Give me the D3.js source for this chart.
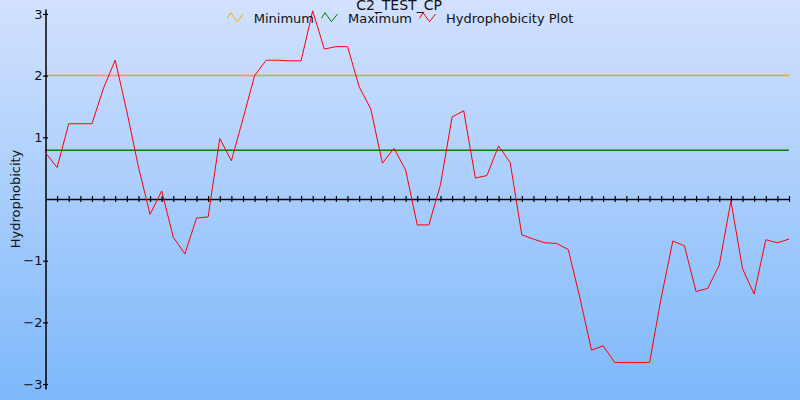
<!DOCTYPE html>
<html>
<head>
<meta charset="utf-8">
<script src="https://cdn.jsdelivr.net/npm/d3@7"></script>
<style>
  html, body { margin: 0; padding: 0; }
  svg { display: block; font-family: "DejaVu Sans", Verdana, sans-serif; }
</style>
</head>
<body>
<svg id="chart" width="800" height="400"></svg>
<script>
// ---- data ----
const chartTitle = "C2_TEST_CP";
const yLabel = "Hydrophobicity";
const seriesNames = ["Minimum", "Maximum", "Hydrophobicity Plot"];
const hydrophobicity = [
  0.75, 0.51, 1.22, 1.22, 1.22, 1.80, 2.25, 1.42, 0.52, -0.25,
  0.13, -0.62, -0.89, -0.31, -0.29, 0.98, 0.62, 1.30, 2.00, 2.25,
  2.25, 2.24, 2.24, 3.05, 2.43, 2.47, 2.47, 1.82, 1.46, 0.58,
  0.82, 0.47, -0.42, -0.42, 0.23, 1.33, 1.43, 0.34, 0.38, 0.86,
  0.59, -0.58, -0.65, -0.71, -0.72, -0.82, -1.60, -2.45, -2.38, -2.65,
  -2.65, -2.65, -2.65, -1.60, -0.68, -0.76, -1.50, -1.45, -1.07, -0.03,
  -1.13, -1.54, -0.66, -0.71, -0.65
];
const minimumValue = 2.0;
const maximumValue = 0.79;
const yTickValues = [-3, -2, -1, 1, 2, 3];
const yDomain = [-3.08, 3.08];

// ---- layout ----
const W = 800, H = 400;
const mLeft = 45.5, mRight = 789, mTop = 9, mBottom = 389;
const colors = { min: "#ffa500", max: "#008000", plot: "#ff0000" };

const svg = d3.select("#chart");
const defs = svg.append("defs");
const grad = defs.append("linearGradient").attr("id", "bg")
  .attr("x1", 0).attr("y1", 0).attr("x2", 0).attr("y2", 1);
grad.append("stop").attr("offset", "0%").attr("stop-color", "#d2e1fe");
grad.append("stop").attr("offset", "100%").attr("stop-color", "#7db8fa");
svg.append("rect").attr("width", W).attr("height", H).attr("fill", "url(#bg)");

const idx = d3.range(hydrophobicity.length);
const x = d3.scaleLinear().domain([0, hydrophobicity.length - 1]).range([mLeft, mRight]);
const y = d3.scaleLinear().domain(yDomain).range([mBottom, mTop]);

// threshold lines
const line = d3.line().x((d, i) => x(i)).y(d => y(d));
svg.append("path").datum(idx.map(() => minimumValue))
  .attr("d", line).attr("fill", "none").attr("stroke", colors.min).attr("stroke-width", 1.5);
svg.append("path").datum(idx.map(() => maximumValue))
  .attr("d", line).attr("fill", "none").attr("stroke", colors.max).attr("stroke-width", 1.5);

// x axis at y=0 with cross ticks
const xAxis = d3.axisBottom(x).tickValues(idx.slice(1)).tickSize(0).tickFormat("");
const gx = svg.append("g").attr("transform", `translate(0,${y(0)})`).call(xAxis);
gx.select(".domain").attr("stroke", "#000").attr("stroke-width", 1.5);
gx.selectAll(".tick").append("line").attr("y1", -3).attr("y2", 3)
  .attr("stroke", "#000").attr("stroke-width", 1.2);

// y axis
const yAxis = d3.axisLeft(y).tickValues(yTickValues).tickSize(0).tickPadding(3)
  .tickFormat(d3.format("d"));
const gy = svg.append("g").attr("transform", `translate(${mLeft},0)`).call(yAxis);
gy.select(".domain").attr("stroke", "#000").attr("stroke-width", 1.5);
gy.selectAll(".tick line").remove();
gy.selectAll(".tick").append("line").attr("x1", -2.5).attr("x2", 2.5)
  .attr("stroke", "#000").attr("stroke-width", 1.2);
gy.selectAll(".tick text").attr("font-size", 13).attr("fill", "#111")
  .attr("font-family", "DejaVu Sans, sans-serif");

// data line
svg.append("path").datum(hydrophobicity)
  .attr("d", line).attr("fill", "none").attr("stroke", colors.plot).attr("stroke-width", 1);

// y label
svg.append("text").attr("transform", `translate(20,${(mTop + mBottom) / 2}) rotate(-90)`)
  .attr("text-anchor", "middle").attr("font-size", 13).attr("fill", "#111").text(yLabel);

// title
svg.append("text").attr("x", 399).attr("y", 10).attr("text-anchor", "middle")
  .attr("font-size", 14).attr("fill", "#111").text(chartTitle);

// legend
const legendColors = [colors.min, colors.max, colors.plot];
const legend = svg.append("g");
let cx = 0;
seriesNames.forEach((name, i) => {
  const g = legend.append("g").attr("transform", `translate(${cx},0)`);
  g.append("polyline").attr("points", "0.5,18.3 4,12.7 10.5,21.7 16.5,14")
    .attr("fill", "none").attr("stroke", legendColors[i]).attr("stroke-width", 1);
  const t = g.append("text").attr("x", 27).attr("y", 22.5).attr("font-size", 13)
    .attr("fill", "#111").text(name);
  cx += 27 + t.node().getComputedTextLength() + 7;
});
const legendWidth = cx - 7;
legend.attr("transform", `translate(${400 - legendWidth / 2},0)`);
</script>
</body>
</html>
